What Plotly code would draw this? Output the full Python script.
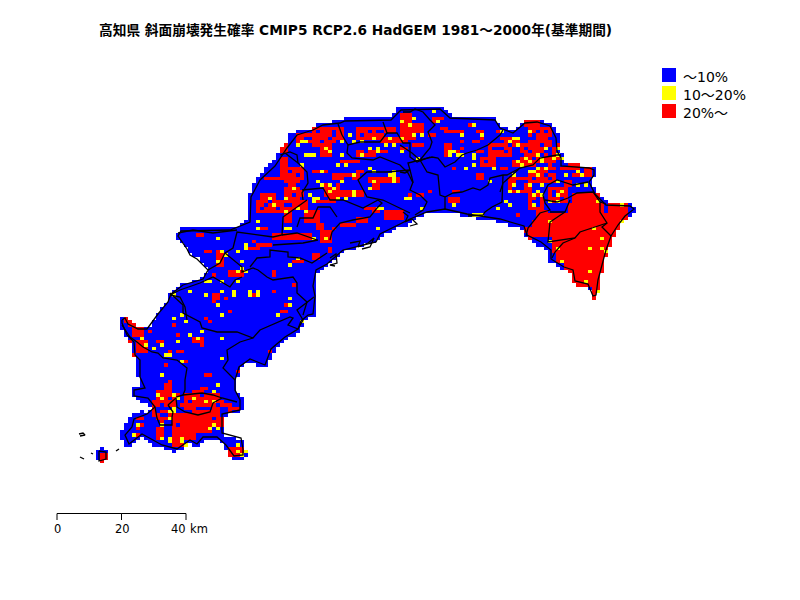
import numpy as np
import plotly.graph_objects as go

# map grid: 200 x 180 cells, x/y map units run 0-800 and 0-600
CELL_W = 4
CELL_H = 10 / 3
N_COLS = 200
N_ROWS = 180

title_text = "高知県 斜面崩壊発生確率 CMIP5 RCP2.6 HadGEM 1981～2000年(基準期間)"
class_labels = ["～10%", "10～20%", "20%～"]
class_colors = ["#0000ff", "#ffff00", "#ff0000"]
scale_ticks = [0, 20, 40]
scale_unit = "km"

# (column, north edge, south edge) of each land span
land_spans = [
    (24, 449, 461), (25, 448, 463), (26, 450, 461),
    (30, 318, 330), (30, 430, 440), (31, 316, 338), (31, 424, 446),
    (32, 320, 342), (32, 418, 447), (33, 322, 358), (33, 388, 398), (33, 414, 443),
    (34, 325, 378), (34, 388, 401), (34, 412, 440), (35, 326, 402), (35, 410, 438),
    (36, 327, 404), (36, 412, 439), (37, 326, 405), (37, 409, 442),
    (38, 320, 445), (39, 312, 446), (40, 308, 448), (41, 302, 449), (42, 292, 450),
    (43, 290, 452), (44, 232, 240), (44, 288, 451), (45, 228, 244), (45, 284, 450),
    (46, 227, 247), (46, 283, 447), (47, 227, 253), (47, 282, 444),
    (48, 227, 256), (48, 281, 445), (49, 227, 258), (49, 279, 446),
    (50, 227, 262), (50, 277, 444), (51, 227, 266), (51, 274, 441),
    (52, 227, 441), (53, 227, 440), (54, 227, 441), (55, 227, 444),
    (56, 227, 416), (56, 436, 451), (57, 227, 415), (57, 437, 457),
    (58, 226, 414), (58, 438, 459), (59, 225, 378), (59, 392, 413), (59, 439, 459),
    (60, 222, 368), (60, 397, 411), (60, 441, 459), (61, 221, 364), (61, 450, 458),
    (62, 195, 362), (63, 183, 363), (64, 177, 365), (65, 172, 367), (66, 168, 367),
    (67, 164, 360), (68, 161, 352), (69, 155, 347), (70, 145, 343), (71, 143, 340),
    (72, 135, 338), (73, 132, 336), (74, 131, 333), (75, 130, 326), (76, 130, 321),
    (77, 129, 318), (78, 127, 317), (79, 123, 272), (80, 122, 270), (81, 122, 267),
    (82, 122, 263), (83, 121, 260), (84, 120, 257), (85, 119, 254), (86, 118, 251),
    (87, 118, 249), (88, 118, 249), (89, 118, 247), (90, 118, 245), (91, 118, 243),
    (92, 118, 243), (93, 118, 242), (94, 118, 240), (95, 118, 236), (96, 118, 233),
    (97, 116, 232), (98, 112, 230), (99, 108, 228), (100, 107, 227), (101, 106, 225),
    (102, 106, 222), (103, 106, 220), (104, 106, 218), (105, 106, 216), (106, 106, 215),
    (107, 106, 215), (108, 106, 214), (109, 106, 213), (110, 107, 213), (111, 110, 212),
    (112, 115, 213), (113, 116, 214), (114, 117, 215), (115, 117, 216), (116, 117, 217),
    (117, 116, 218), (118, 116, 218), (119, 116, 219), (120, 116, 220), (121, 116, 220),
    (122, 116, 221), (123, 117, 221), (124, 122, 222), (125, 126, 222), (126, 128, 223),
    (127, 129, 225), (128, 130, 227), (129, 127, 228), (130, 122, 229), (131, 120, 238),
    (132, 119, 241), (133, 119, 243), (134, 119, 245), (135, 121, 247), (136, 122, 251),
    (137, 123, 262), (138, 127, 264), (139, 135, 266), (140, 155, 269), (141, 163, 271),
    (142, 163, 273), (143, 163, 284), (144, 164, 285), (145, 165, 285), (146, 165, 285),
    (147, 165, 290), (148, 167, 178), (148, 188, 299), (149, 193, 292), (150, 197, 275),
    (151, 200, 258), (152, 203, 246), (153, 203, 236), (154, 203, 230), (155, 203, 224),
    (156, 203, 219), (157, 204, 216), (158, 207, 212),
]

# (first col, last col, first row, last row) of cells above 20%
red_blocks = [
    # southeast
    (143, 149, 58, 60), (142, 150, 61, 63), (152, 156, 61, 63), (136, 156, 64, 66),
    (131, 155, 66, 69), (132, 153, 69, 72), (138, 152, 72, 75), (139, 151, 75, 78),
    (141, 150, 78, 81), (143, 150, 81, 85), (148, 149, 85, 89),
    # northeast
    (131, 134, 36, 37), (132, 137, 38, 42), (130, 139, 43, 47), (125, 129, 41, 43),
    (122, 127, 43, 46), (120, 123, 47, 49), (119, 120, 52, 53), (134, 138, 48, 54),
    (128, 133, 48, 49), (127, 132, 53, 57), (132, 136, 51, 54), (137, 141, 56, 60),
    (142, 145, 49, 49), (143, 147, 52, 52), (140, 144, 50, 50), (141, 142, 54, 55),
    (146, 147, 50, 51), (132, 135, 58, 62), (134, 136, 63, 66), (129, 129, 64, 64),
    (125, 126, 50, 50),
    # north centre
    (100, 102, 35, 40), (103, 105, 37, 39), (102, 103, 41, 41), (103, 105, 43, 43),
    (100, 101, 44, 44), (108, 108, 35, 36), (109, 110, 35, 35), (110, 111, 38, 38),
    (111, 115, 39, 39), (117, 117, 37, 37), (119, 120, 39, 39), (120, 120, 41, 41),
    (124, 124, 39, 39), (115, 115, 42, 42), (115, 115, 44, 44), (118, 119, 42, 42),
    (112, 112, 45, 46), (113, 113, 50, 50), (119, 120, 45, 45), (104, 105, 58, 58),
    (107, 107, 57, 57), (114, 114, 57, 57), (112, 114, 59, 60), (105, 105, 62, 62),
    (102, 102, 58, 58), (74, 79, 40, 42), (78, 81, 38, 43), (81, 85, 38, 42),
    (89, 96, 38, 41), (97, 98, 38, 39), (89, 93, 45, 46), (94, 96, 45, 45),
    (100, 102, 34, 35), (102, 103, 40, 41), (104, 105, 37, 39), (70, 71, 43, 45),
    (70, 75, 50, 53), (71, 74, 54, 56), (72, 75, 57, 58), (78, 80, 51, 51),
    (84, 89, 52, 53), (89, 90, 51, 51), (93, 98, 53, 54), (93, 94, 55, 56),
    (81, 84, 55, 58), (85, 90, 57, 58), (107, 108, 40, 40), (111, 112, 43, 46),
    (114, 114, 45, 45), (113, 113, 57, 57), (95, 101, 41, 42), (85, 89, 48, 48),
    # west centre
    (70, 71, 47, 51), (66, 70, 53, 53), (65, 68, 58, 60), (64, 70, 60, 63),
    (64, 66, 68, 68), (71, 74, 56, 60), (71, 72, 62, 66), (73, 76, 60, 62),
    (76, 79, 63, 66), (78, 81, 60, 60), (82, 83, 56, 60), (78, 81, 51, 51),
    (83, 89, 52, 53), (80, 82, 39, 46), (96, 99, 53, 54), (92, 96, 53, 54),
    (93, 94, 63, 63), (96, 100, 63, 65), (91, 93, 62, 62), (89, 91, 65, 66),
    (85, 88, 67, 67), (80, 82, 69, 72), (83, 83, 68, 68), (79, 80, 67, 68),
    (68, 77, 70, 71), (64, 67, 73, 73), (61, 64, 74, 74), (63, 63, 72, 72),
    (51, 52, 75, 75), (54, 55, 75, 79), (49, 50, 70, 70), (73, 75, 78, 78),
    (78, 79, 76, 77), (82, 82, 74, 75), (57, 60, 81, 82), (53, 53, 82, 82),
    (68, 68, 81, 82), (53, 53, 88, 90), (63, 63, 88, 88), (68, 68, 87, 87),
    (73, 73, 85, 85), (71, 71, 91, 91), (70, 71, 93, 93),
    # southwest
    (31, 31, 95, 96), (32, 33, 96, 97), (33, 35, 98, 100), (32, 32, 102, 102),
    (34, 36, 102, 105), (33, 33, 106, 106), (37, 37, 99, 99), (39, 40, 102, 102),
    (42, 42, 105, 105), (44, 45, 105, 105), (46, 46, 96, 96), (43, 43, 97, 97),
    (44, 44, 100, 100), (48, 50, 101, 102), (50, 50, 103, 103), (51, 51, 95, 95),
    (52, 52, 96, 96), (53, 54, 88, 89), (56, 56, 89, 89), (57, 57, 93, 93),
    (46, 46, 108, 108), (59, 59, 111, 111), (51, 51, 112, 112), (52, 52, 112, 112),
    (41, 41, 109, 109), (42, 42, 114, 114), (67, 67, 105, 105),
    (41, 42, 115, 116), (50, 51, 116, 116), (48, 50, 117, 117), (39, 42, 117, 118),
    (39, 44, 118, 119), (46, 54, 118, 119), (38, 43, 120, 121), (46, 55, 120, 121),
    (38, 41, 121, 124), (45, 57, 121, 124), (39, 42, 124, 125), (43, 56, 124, 125),
    (40, 40, 126, 127), (43, 55, 126, 127), (39, 40, 128, 129), (43, 52, 128, 129),
    (39, 40, 130, 131), (43, 48, 130, 131), (43, 45, 132, 133), (57, 59, 122, 122),
    (34, 35, 125, 125), (35, 35, 127, 127), (34, 34, 128, 128), (33, 34, 130, 130),
    (57, 60, 134, 136), (25, 26, 136, 138),
]

# blue cells left inside the red patches
blue_holes = [
    (133, 133, 40, 41), (136, 136, 39, 39), (132, 132, 45, 45), (135, 135, 46, 46),
    (133, 133, 47, 47), (138, 138, 43, 43), (125, 125, 42, 42), (137, 138, 51, 51),
    (134, 134, 49, 49), (131, 132, 66, 67), (129, 130, 54, 55), (133, 134, 60, 61),
    (138, 139, 58, 58), (124, 125, 44, 44), (128, 129, 46, 47), (136, 137, 44, 45),
    (137, 137, 53, 53), (130, 130, 56, 56), (49, 52, 122, 122), (44, 45, 122, 123),
    (55, 56, 122, 124), (44, 44, 127, 127), (41, 41, 122, 122), (82, 82, 41, 41),
    (77, 77, 41, 41), (92, 92, 39, 39), (74, 74, 55, 55), (66, 66, 61, 61),
    (69, 69, 62, 62), (133, 137, 71, 74),
    # finer speckle in the north
    (134, 134, 39, 39), (137, 137, 41, 41), (132, 132, 41, 41), (135, 135, 43, 43),
    (131, 131, 44, 44), (137, 137, 46, 46), (139, 139, 45, 45), (130, 130, 46, 46),
    (126, 126, 45, 45), (123, 123, 44, 44), (121, 121, 48, 48), (127, 127, 43, 43),
    (135, 136, 49, 49), (138, 138, 49, 49), (136, 136, 52, 52), (133, 133, 53, 53),
    (128, 129, 56, 56), (131, 131, 54, 54), (138, 138, 57, 57), (140, 140, 59, 59),
    (134, 134, 59, 59), (79, 79, 39, 39), (80, 80, 42, 42), (83, 83, 39, 40),
    (84, 84, 42, 42), (76, 76, 41, 41), (90, 90, 40, 40), (94, 95, 39, 39),
    (91, 91, 45, 45), (96, 96, 40, 40), (72, 72, 51, 51), (74, 74, 52, 52),
    (71, 71, 55, 55), (73, 73, 58, 58), (67, 67, 60, 60), (65, 65, 62, 62),
    (82, 82, 57, 57), (83, 83, 55, 55), (86, 87, 53, 53), (40, 40, 121, 122),
    (40, 41, 124, 124), (42, 42, 119, 119), (39, 39, 122, 123), (47, 47, 120, 120),
    (50, 50, 118, 118), (54, 54, 121, 121), (46, 47, 123, 123), (53, 53, 125, 125),
]

yellow_cells = [
    (51, 84), (55, 84), (59, 84), (47, 87), (51, 88), (55, 87), (58, 87), (62, 87), (64, 87),
    (72, 89), (54, 91), (72, 91), (55, 94), (69, 94), (75, 96), (43, 88), (45, 94), (43, 95),
    (46, 96), (50, 99), (47, 100), (49, 101), (44, 102), (40, 103), (55, 101), (35, 101),
    (36, 103), (38, 104), (41, 106), (42, 106), (45, 108), (55, 107), (40, 112), (54, 115),
    (53, 117), (39, 118), (43, 118), (40, 119), (48, 119), (51, 120), (44, 119), (53, 120),
    (43, 122), (42, 123), (43, 123), (42, 125), (53, 127), (54, 128), (52, 128), (40, 127),
    (34, 127), (33, 130), (35, 131), (40, 131), (42, 131), (45, 131), (45, 132), (46, 133),
    (42, 132), (59, 133), (59, 135), (60, 136), (61, 135),
    (54, 71), (61, 73), (61, 74), (55, 75), (59, 75), (56, 76), (54, 78), (60, 78), (60, 80),
    (59, 81), (61, 81), (52, 84), (64, 88), (62, 88), (58, 88), (77, 58), (79, 59), (78, 60),
    (71, 59), (67, 59), (73, 56), (64, 66), (64, 68), (68, 61), (71, 63), (76, 63), (74, 62),
    (71, 68), (72, 68), (78, 71), (81, 71), (74, 77), (72, 79), (76, 42), (76, 46), (78, 46),
    (82, 45), (85, 46), (90, 46), (87, 40), (90, 42), (93, 41), (92, 44), (96, 43), (94, 45),
    (100, 45), (79, 54), (80, 55), (85, 54), (83, 56), (82, 55), (88, 57), (86, 59), (88, 58),
    (92, 50), (93, 54), (98, 52), (98, 53), (92, 56), (101, 59), (95, 62), (94, 68), (94, 62),
    (84, 49), (108, 33), (103, 35), (100, 36), (102, 37), (103, 40), (105, 40), (109, 36),
    (115, 40), (118, 37), (120, 40), (125, 39), (112, 45), (115, 46), (112, 46), (114, 46),
    (118, 47), (118, 46), (116, 50), (118, 49), (129, 48), (130, 49), (123, 50), (128, 41),
    (129, 41), (127, 42), (129, 43), (132, 39), (136, 44), (139, 44), (139, 46), (134, 46),
    (135, 47), (131, 47), (138, 47), (140, 47), (135, 48), (134, 50), (132, 48), (136, 50),
    (133, 51), (134, 52), (128, 52), (132, 51), (141, 52), (144, 51), (145, 52), (139, 54),
    (146, 55), (144, 55), (128, 55), (132, 55), (134, 57), (135, 55), (133, 58), (135, 58),
    (133, 61), (137, 60), (139, 58), (140, 57), (139, 60), (127, 61), (126, 60), (124, 62),
    (122, 54), (119, 64), (120, 64), (118, 64), (113, 61), (105, 62), (102, 59), (129, 57),
    (127, 57), (149, 60), (155, 61), (155, 66), (148, 68), (150, 71), (147, 74), (150, 74),
    (151, 75), (151, 78), (140, 78), (147, 81), (146, 84), (150, 83), (149, 87), (149, 88),
    (139, 74), (137, 66), (137, 72), (87, 40), (75, 42), (74, 43), (77, 46), (81, 44), (85, 42),
    (88, 42), (92, 44), (94, 44), (98, 43), (97, 41), (100, 41), (104, 47), (112, 46), (113, 45),
    (86, 49), (80, 51), (88, 52), (92, 50), (93, 51), (97, 52), (98, 51), (98, 54), (78, 59),
    (77, 58), (75, 49), (84, 59), (73, 56), (92, 56), (82, 57),
]

# coast and municipal boundary polylines, in map units
coast_line = [
    (122, 320), (125, 318), (128, 324), (138, 329), (147, 329), (158, 314), (168, 302), (171, 294),
    (183, 285), (203, 279), (208, 270), (197, 259), (190, 255), (187, 249), (178, 236), (181, 231),
    (230, 230), (250, 222), (251, 197), (260, 180), (275, 166), (287, 148), (297, 135), (313, 130),
    (323, 125), (340, 123), (345, 121), (391, 120), (401, 110), (440, 109), (450, 118), (495, 120),
    (500, 128), (513, 133), (525, 123), (537, 122), (550, 126), (556, 138), (557, 151), (561, 158),
    (561, 166), (589, 168), (594, 170), (594, 175), (589, 182), (595, 194), (606, 205), (630, 206),
    (634, 209), (625, 216), (618, 225), (611, 236), (606, 250), (602, 266), (598, 280), (596, 295),
    (593, 296), (588, 284), (575, 281), (573, 270), (564, 267), (551, 259), (551, 250), (541, 242),
    (527, 235), (524, 226), (500, 219), (467, 214), (445, 209), (427, 212), (410, 219), (400, 224),
    (390, 229), (380, 234), (376, 242), (343, 250), (327, 264), (316, 270), (313, 286), (315, 296),
    (313, 314), (308, 315), (301, 321), (298, 329), (285, 337), (271, 349), (265, 365), (250, 359),
    (239, 367), (235, 380), (235, 390), (240, 400), (240, 410), (222, 414), (222, 433), (241, 438),
    (243, 449), (243, 455), (234, 456), (226, 445), (217, 437), (203, 437), (197, 444), (190, 440),
    (177, 449), (162, 445), (153, 440), (142, 434), (129, 444), (125, 435), (132, 427), (134, 419),
    (147, 414), (155, 407), (148, 398), (134, 396), (134, 390), (145, 388), (140, 377), (140, 360),
    (135, 355), (134, 342), (127, 335), (122, 323), (122, 320),
]
boundary_lines = [
    [(400, 145), (405, 148), (412, 153), (420, 160), (432, 157), (438, 158), (445, 167), (455, 162),
     (462, 155), (467, 153), (477, 150), (488, 145), (500, 135), (503, 130)],
    [(420, 160), (408, 163), (410, 170), (405, 173), (400, 172)],
    [(420, 160), (427, 172), (438, 175), (440, 195), (445, 197), (445, 210)],
    [(445, 197), (453, 193), (462, 192), (473, 188), (480, 190), (488, 185), (490, 178), (503, 175),
     (507, 175), (520, 168), (533, 165), (540, 158), (557, 155), (561, 155)],
    [(410, 170), (413, 182), (410, 190), (420, 195), (427, 202), (423, 210), (415, 215)],
    [(403, 112), (410, 112), (415, 109), (423, 112), (430, 120), (435, 125), (428, 132), (432, 142),
     (430, 148), (420, 160)],
    [(503, 175), (502, 192), (502, 202), (492, 207), (485, 212), (483, 215), (468, 216)],
    [(520, 168), (510, 177), (503, 183), (500, 192)],
    [(588, 182), (573, 185), (557, 180), (548, 185), (543, 195), (545, 203), (550, 210), (540, 213),
     (528, 228), (526, 236)],
    [(545, 200), (557, 202), (568, 198), (577, 193), (593, 192), (600, 202), (600, 212), (607, 223),
     (602, 227), (611, 236)],
    [(565, 212), (550, 222), (548, 242), (575, 238), (580, 232), (592, 228), (607, 223)],
    [(550, 212), (565, 212), (570, 200)],
    [(575, 238), (563, 243), (555, 252), (552, 258)],
    [(600, 202), (606, 204)],
    [(342, 135), (348, 145), (360, 142), (380, 142), (387, 133), (383, 122)],
    [(387, 133), (397, 133), (403, 143), (410, 143), (410, 157), (417, 162), (430, 157)],
    [(348, 145), (347, 153), (352, 158), (373, 160), (380, 157), (400, 165), (408, 173), (413, 183)],
    [(338, 124), (342, 135)],
    [(280, 155), (290, 152), (297, 155), (298, 163), (307, 172), (308, 183), (302, 193), (303, 200)],
    [(285, 153), (298, 163)],
    [(302, 190), (323, 188), (327, 195), (330, 200), (343, 200), (363, 208), (378, 200), (382, 203),
     (377, 208), (370, 217), (353, 220), (340, 223), (332, 232), (330, 240)],
    [(307, 200), (283, 217), (282, 235), (273, 237), (237, 232), (233, 248), (225, 253), (220, 263), (208, 270)],
    [(178, 233), (193, 230), (213, 233), (237, 230)],
    [(297, 227), (300, 218), (313, 218), (318, 207), (330, 207), (337, 217)],
    [(282, 235), (297, 233), (317, 240)],
    [(273, 245), (303, 243), (318, 240)],
    [(225, 253), (242, 267), (242, 272), (253, 268), (258, 270), (267, 277), (273, 280), (293, 277),
     (297, 283), (297, 293), (307, 302), (303, 315)],
    [(250, 267), (257, 258), (270, 257), (270, 250), (288, 252), (288, 257), (300, 258), (312, 263), (327, 253)],
    [(410, 213), (383, 200), (367, 197), (358, 180), (367, 172), (387, 172), (410, 170)],
    [(170, 295), (180, 290), (200, 283), (213, 277), (230, 287), (235, 280), (242, 277)],
    [(170, 295), (180, 297), (185, 307), (187, 320)],
    [(170, 293), (177, 300), (183, 305), (183, 313), (200, 322), (202, 328), (217, 332), (237, 332),
     (253, 338), (260, 330), (277, 323), (290, 317), (293, 318), (288, 325), (298, 329), (303, 320),
     (297, 310), (310, 300), (314, 297)],
    [(253, 338), (240, 342), (227, 350), (228, 360), (223, 368), (235, 380)],
    [(122, 325), (130, 337), (137, 342), (143, 347), (152, 352), (158, 353), (163, 358), (177, 360),
     (187, 368), (185, 380), (185, 390), (183, 395)],
    [(176, 397), (183, 395), (202, 393), (213, 395), (222, 398), (237, 402)],
    [(176, 398), (177, 407), (185, 412), (198, 415), (210, 412), (213, 403), (222, 398)],
    [(168, 405), (176, 398)],
    [(168, 405), (173, 412), (172, 417), (172, 425), (160, 425), (157, 418), (155, 407)],
    # islands and rough bay shores
    [(99, 451), (106, 452), (106, 459), (99, 461), (99, 451)],
    [(79, 434), (83, 433), (85, 435), (80, 436)],
    [(80, 457), (84, 459)], [(91, 453), (93, 454)], [(116, 451), (119, 449)],
    [(403, 212), (408, 216), (405, 222), (412, 219), (417, 224), (410, 226)],
    [(350, 243), (360, 241), (358, 247), (368, 243), (374, 238), (370, 247), (362, 249)],
    [(330, 258), (336, 254), (337, 263), (330, 265), (335, 266)],
]

grid = np.full((N_ROWS, N_COLS), np.nan)
for col, north, south in land_spans:
    grid[round(north / CELL_H):round(south / CELL_H), col] = 0
land = grid == 0
for c0, c1, r0, r1 in red_blocks:
    grid[r0:r1 + 1, c0:c1 + 1] = 2
for c0, c1, r0, r1 in blue_holes:
    grid[r0:r1 + 1, c0:c1 + 1] = 0
for col, row in yellow_cells:
    grid[row, col] = 1
grid[~land] = np.nan

fig = go.Figure()
fig.add_trace(go.Heatmap(
    z=grid,
    x0=CELL_W / 2, dx=CELL_W,
    y0=CELL_H / 2, dy=CELL_H,
    zmin=0, zmax=2,
    colorscale=[[0, class_colors[0]], [0.5, class_colors[1]], [1, class_colors[2]]],
    showscale=False,
    hoverinfo="skip",
))

for line in [coast_line] + boundary_lines:
    fig.add_trace(go.Scatter(
        x=[p[0] for p in line],
        y=[p[1] for p in line],
        mode="lines",
        line=dict(color="black", width=1.3),
        showlegend=False,
        hoverinfo="skip",
    ))

# scale bar
km_to_x = 129 / 40
bar_x = [57 + t * km_to_x for t in scale_ticks]
fig.add_trace(go.Scatter(
    x=[bar_x[0], bar_x[0], bar_x[0], bar_x[1], bar_x[1], bar_x[1], bar_x[2], bar_x[2]],
    y=[520, 513.5, 513.5, 513.5, 520, 513.5, 513.5, 520],
    mode="lines",
    line=dict(color="black", width=1),
    showlegend=False,
    hoverinfo="skip",
))
label_x = [bar_x[0], bar_x[1] + 1, bar_x[2] - 8]
for t, x in zip(scale_ticks, label_x):
    fig.add_annotation(x=x, y=529, text=str(t), showarrow=False,
                       font=dict(family="DejaVu Sans", size=11.5, color="black"))
fig.add_annotation(x=bar_x[2] + 2, y=529, text=scale_unit, showarrow=False, xanchor="left",
                   font=dict(family="DejaVu Sans", size=11.5, color="black"))

# legend
for i, (label, color) in enumerate(zip(class_labels, class_colors)):
    top = 68 + i * 18
    fig.add_shape(type="rect", x0=662, x1=676, y0=top, y1=top + 14,
                  fillcolor=color, line=dict(width=0))
    fig.add_annotation(x=681, y=top + 8.5, text=label, showarrow=False, xanchor="left",
                       font=dict(family="DejaVu Sans, Noto Sans CJK JP", size=14, color="black"))

fig.add_annotation(x=355.5, y=30, text="<b>" + title_text + "</b>", showarrow=False,
                   font=dict(family="DejaVu Sans, Noto Sans CJK JP", size=13.7, color="black"))

fig.update_layout(
    width=800,
    height=600,
    margin=dict(l=0, r=0, t=0, b=0),
    paper_bgcolor="white",
    plot_bgcolor="white",
    showlegend=False,
    xaxis=dict(range=[0, 800], visible=False, fixedrange=True),
    yaxis=dict(range=[600, 0], visible=False, fixedrange=True),
)
fig.write_html("out.html", config={"displayModeBar": False},
               post_script="document.body.style.margin='0';")
